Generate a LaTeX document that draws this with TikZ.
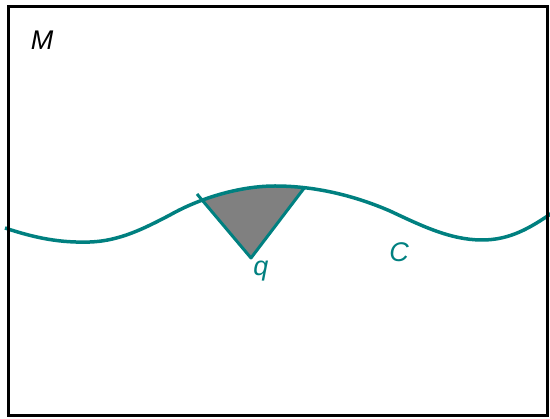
\documentclass[tikz,border=0pt]{standalone}
\usepackage{fontspec}
\setmainfont{Liberation Sans}
\begin{document}
\begin{tikzpicture}[x=1pt,y=-1pt,
  curve/.style={draw=teal, line width=3.5pt},
  lab/.style={font=\fontsize{27}{30}\selectfont\itshape, inner sep=0pt}]
\useasboundingbox (0,0) rectangle (550,419);
\fill[white] (0,0) rectangle (550,419);
\coordinate (q) at (251,258);
\coordinate (l) at (201,199);
\coordinate (lx) at (197,194);
\coordinate (r) at (305,187);
\fill[gray] (q) -- (l) .. controls (232,189) and (268,185) .. (r) -- cycle;
\draw[curve, line width=3pt, line join=round] (lx) -- (q) -- (r);
\draw[curve] (5,228) .. controls (35,238) and (60,243) .. (90,242)
  .. controls (120,241) and (145,228) .. (170,215)
  .. controls (200,198) and (240,186) .. (275,186)
  .. controls (320,186) and (360,198) .. (390,211)
  .. controls (420,225) and (450,240) .. (482,240)
  .. controls (510,240) and (530,228) .. (552,213);
\draw[line width=3pt] (8,7) rectangle (547,416);
\node[lab] (M) at (42,40) {M};
\node[lab, text=teal] (qlab) at (261,271) {q};
\node[lab, text=teal] (C) at (399,252) {C};
\end{tikzpicture}
\end{document}
